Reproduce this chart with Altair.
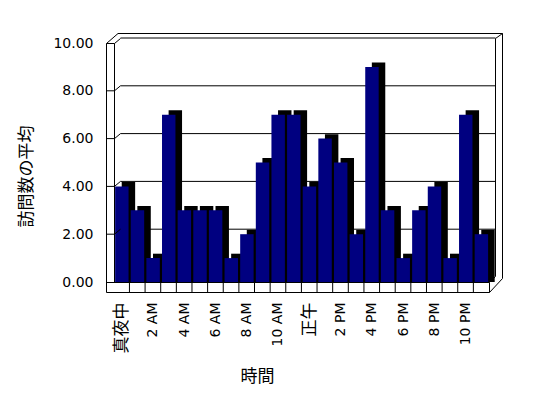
import json
import altair as alt
import pandas as pd

# ---- data ----
HOURS = list(range(24))
VISITS = [4, 3, 1, 7, 3, 3, 3, 1, 2, 5, 7, 7, 4, 6, 5, 2, 9, 3, 1, 3, 4, 1, 7, 2]
HOUR_LABELS = ["真夜中", "1 AM", "2 AM", "3 AM", "4 AM", "5 AM", "6 AM", "7 AM",
               "8 AM", "9 AM", "10 AM", "11 AM", "正午", "1 PM", "2 PM", "3 PM",
               "4 PM", "5 PM", "6 PM", "7 PM", "8 PM", "9 PM", "10 PM", "11 PM"]
Y_TICKS = [0, 2, 4, 6, 8, 10]
Y_TITLE = "訪問数の平均"
X_TITLE = "時間"

# ---- layout ----
W, H = 383, 239
FLOOR = 10          # floor slab thickness (px)
BDX, BDY = 14, -5   # depth of back wall
DX, DY = 6.6, -4.4  # depth of bars
NAVY = "#000080"

df = pd.DataFrame({"hour": HOURS, "end": [h + 1 for h in HOURS],
                   "visits": VISITS, "base": [0] * len(HOURS)})
grid_df = pd.DataFrame({"v": [t for t in Y_TICKS if t > 0]})
wall_df = pd.DataFrame({"v": [t for t in Y_TICKS if 0 < t < 10]})
div_df = pd.DataFrame({"h": HOURS[1:]})
ONE = pd.DataFrame({"k": [0]})

x_scale = alt.Scale(domain=[-0.5, 24], nice=False, zero=False)
y_scale = alt.Scale(domain=[0, 10], nice=False)

label_expr = json.dumps(HOUR_LABELS, ensure_ascii=False) + "[floor(datum.value)]"
x_axis = alt.Axis(
    values=[h + 0.5 for h in HOURS if h % 2 == 0],
    labelExpr=label_expr,
    labelAngle=270,
    labelFont="DejaVu Sans, Noto Sans CJK JP",
    labelFontSize={"condition": {"test": "datum.value == 0.5 || datum.value == 12.5", "value": 17}, "value": 14},
    labelColor="black",
    labelPadding=10,
    offset=FLOOR,
    domain=False,
    ticks=False,
    grid=False,
    title=X_TITLE,
    titleFont="Noto Sans CJK JP",
    titleFontSize=17,
    titleFontWeight="normal",
    titleColor="black",
    titleX=151,
    titlePadding=16,
)
y_axis = alt.Axis(
    values=Y_TICKS,
    format=".2f",
    labelFont="DejaVu Sans",
    labelFontSize=14,
    labelColor="black",
    labelPadding=13,
    domain=False,
    ticks=False,
    grid=False,
    title=Y_TITLE,
    titleFont="Noto Sans CJK JP",
    titleFontSize=17,
    titleFontWeight="normal",
    titleColor="black",
    titlePadding=17,
    titleY=133,
)

X = alt.X("hour:Q", scale=x_scale, axis=x_axis)
Y = alt.Y("visits:Q", scale=y_scale, axis=y_axis)


def seg(x0, y0, x1, y1):
    return alt.Chart(ONE).mark_rule(color="black", strokeWidth=1).encode(
        x=alt.value(x0), x2=alt.value(x1), y=alt.value(y0), y2=alt.value(y1))


R = W + 0.5              # right end of floor
BR = W + 13.5            # back wall outer right
BI = W + 6.5             # back wall inner right

back = [
    seg(12, -9.5, BR, -9.5),                 # back wall outer top
    seg(BR, -9.5, BR, H - 3.5),              # back wall outer right
    seg(BI, -4.5, BI, H - 5.5),              # back wall inner right
    seg(BI, -4.5, BR, -9.5),                 # top-right corner
    seg(0.5, 0.5, 12, -9.5),                 # top-left outer diagonal
    seg(8.5, 0.5, 14.5, -4.5),               # top-left inner diagonal
]

back_grid = alt.Chart(grid_df).mark_rule(color="black", strokeWidth=1, yOffset=BDY).encode(
    y=alt.Y("v:Q", scale=y_scale, axis=y_axis), x=alt.value(BDX + 0.5), x2=alt.value(BI))

shadow = alt.Chart(df).mark_bar(
    color="black", xOffset=1.3 + DX, x2Offset=-0.9 + DX, yOffset=DY, y2Offset=0
).encode(x=X, x2="end:Q", y=Y, y2="base:Q")

faces = alt.Chart(df).mark_bar(
    color=NAVY, xOffset=1.3, x2Offset=-0.9
).encode(x=X, x2="end:Q", y=Y, y2="base:Q")

floor = [
    seg(0.5, H + 0.5, R, H + 0.5),
    seg(0.5, H + FLOOR + 0.5, R, H + FLOOR + 0.5),
    seg(R, H + 0.5, R, H + FLOOR + 0.5),
    seg(R, H + FLOOR + 0.5, BR, H - 3.5),
    seg(R, H + 0.5, BI, H - 5.5),
]

dividers = alt.Chart(div_df).mark_rule(color="black", strokeWidth=1).encode(
    x=alt.X("h:Q", scale=x_scale, axis=x_axis), y=alt.value(H + 0.5), y2=alt.value(H + FLOOR + 0.5))

left = [
    seg(0.5, 0.5, 0.5, H + FLOOR + 0.5),     # left wall outer edge
    seg(8.5, 0.5, 8.5, H + 0.5),             # left wall inner edge
    seg(0.5, 0.5, 8.5, 0.5),                 # left wall top
]

wall_h = alt.Chart(wall_df).mark_rule(color="black", strokeWidth=1).encode(
    y=alt.Y("v:Q", scale=y_scale, axis=y_axis), x=alt.value(0.5), x2=alt.value(8.5))
wall_d = alt.Chart(wall_df).mark_rule(color="black", strokeWidth=1, y2Offset=BDY).encode(
    y=alt.Y("v:Q", scale=y_scale, axis=y_axis), y2=alt.Y2("v:Q"), x=alt.value(8.5), x2=alt.value(BDX + 0.5))

chart = alt.layer(
    *back, back_grid, shadow, faces, *floor, dividers, *left, wall_h, wall_d
).properties(
    width=W, height=H,
    autosize=alt.AutoSizeParams(type="none"),
    padding={"left": 98, "top": 35, "right": 40, "bottom": 112},
    background="white",
).configure_view(stroke=None)

chart.save("out.html", embed_options={"renderer": "svg", "actions": False})
